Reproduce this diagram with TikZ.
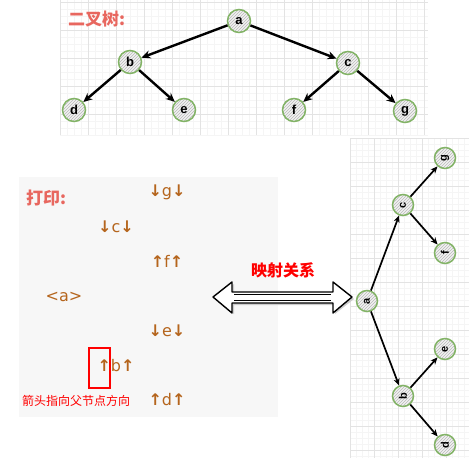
\documentclass[tikz,border=0pt]{standalone}
\usepackage{fontspec}
\setmainfont{Liberation Sans}
\newfontfamily\cjk{Noto Sans CJK SC}
\newfontfamily\dvs{DejaVu Sans}
\newcommand\dn{{\bfseries ↓}}
\newcommand\up{{\bfseries ↑}}
\usetikzlibrary{patterns,arrows.meta}
\definecolor{salmon}{HTML}{E8675F}
\definecolor{brn}{HTML}{B5651D}
\definecolor{grn}{HTML}{82B366}
\tikzset{
  tn/.style={circle,draw=grn,line width=1.5pt,minimum size=23pt,inner sep=0pt,
    preaction={fill=gray!10},pattern=north east lines,pattern color=gray!55,
    font=\bfseries\fontsize{13}{13}\selectfont},
  tns/.style={tn,minimum size=21pt,font=\bfseries\fontsize{11}{11}\selectfont},
  edge/.style={-{Stealth[length=9pt,width=8pt]},line width=2.4pt,black},
  edges/.style={-{Stealth[length=7pt,width=6pt]},line width=1.7pt,black},
  pr/.style={text=brn,font=\dvs\fontsize{16}{16}\selectfont,inner sep=0pt},
  ttl/.style={text=salmon,font=\cjk\bfseries\fontsize{17}{17}\selectfont,inner sep=0pt},
  gmin/.style={gray!8,line width=0.4pt},
  gmaj/.style={gray!22,line width=0.5pt},
}
\begin{document}
\begin{tikzpicture}[x=1pt,y=-1pt]
\useasboundingbox (0,0) rectangle (469,458);
% top grid
\foreach \i in {60,67,...,428} \draw[gmin] (\i,0) -- (\i,135);
\foreach \j in {2,9,...,135} \draw[gmin] (60,\j) -- (428,\j);
\foreach \i in {60,88,...,428} \draw[gmaj] (\i,0) -- (\i,135);
\foreach \j in {2,30,...,135} \draw[gmaj] (60,\j) -- (428,\j);
% right grid
\foreach \i in {350,356,...,469} \draw[gmin] (\i,138) -- (\i,458);
\foreach \j in {138,144,...,458} \draw[gmin] (350,\j) -- (469,\j);
\foreach \i in {350,374,...,469} \draw[gmaj] (\i,138) -- (\i,458);
\foreach \j in {138,162,...,458} \draw[gmaj] (350,\j) -- (469,\j);
% panel
\fill[gray!6] (19,177) rectangle (278,417);

% top tree
\node[ttl,anchor=west] (t1) at (68,19) {二叉树:};
\node[tn] (a) at (239,21) {a};
\node[tn] (b) at (130,62) {b};
\node[tn] (c) at (348,63) {c};
\node[tn] (d) at (74,110) {d};
\node[tn] (e) at (184,110) {e};
\node[tn] (f) at (294,110) {f};
\node[tn] (g) at (405,111) {g};
\draw[edge] (a) -- (b);
\draw[edge] (a) -- (c);
\draw[edge] (b) -- (d);
\draw[edge] (b) -- (e);
\draw[edge] (c) -- (f);
\draw[edge] (c) -- (g);

% print panel
\node[ttl,anchor=west] (t2) at (26,198) {打印:};
\node[pr] (pg) at (167,192) {\dn g\dn};
\node[pr] (pc) at (116,227) {\dn c\dn};
\node[pr] (pf) at (167,261) {\up f\up};
\node[pr] (pa) at (64,297) {<a>};
\node[pr] (pe) at (167,331) {\dn e\dn};
\node[pr] (pb) at (116,366) {\up b\up};
\node[pr] (pd) at (167,400) {\up d\up};
\node[draw=red,line width=1.2pt,minimum width=21pt,minimum height=40pt,inner sep=0pt] (box) at (99.5,368) {};
\node[text=red,font=\cjk\fontsize{12}{12}\selectfont,inner sep=0pt,anchor=west] (note) at (22,401) {箭头指向父节点方向};

% double arrow
\node[text=red,font=\cjk\bfseries\fontsize{16}{16}\selectfont,inner sep=0pt] (map) at (283,270) {映射关系};
\fill[gray!40] (215,299) -- (234,284) -- (234,294) -- (335,294) -- (335,284) -- (354,299) -- (335,314) -- (335,305) -- (234,305) -- (234,314) -- cycle;
\draw[line width=1.4pt,fill=white,line join=round] (213,297) -- (232,282) -- (232,292) -- (333,292) -- (333,282) -- (352,297) -- (333,313) -- (333,303) -- (232,303) -- (232,313) -- cycle;
\draw[line width=0.6pt] (234,294.5) -- (331,294.5);
\draw[line width=0.6pt] (234,300.5) -- (331,300.5);

% right tree
\node[tns,rotate=90] (ra) at (367,301) {a};
\node[tns,rotate=90] (rc) at (403,205) {c};
\node[tns,rotate=90] (rg) at (445,158) {g};
\node[tns,rotate=90] (rf) at (445,253) {f};
\node[tns,rotate=90] (rb) at (403,396) {b};
\node[tns,rotate=90] (re) at (445,349) {e};
\node[tns,rotate=90] (rd) at (445,445) {d};
\draw[edges] (ra) -- (rc);
\draw[edges] (ra) -- (rb);
\draw[edges] (rc) -- (rg);
\draw[edges] (rc) -- (rf);
\draw[edges] (rb) -- (re);
\draw[edges] (rb) -- (rd);
\end{tikzpicture}
\end{document}
